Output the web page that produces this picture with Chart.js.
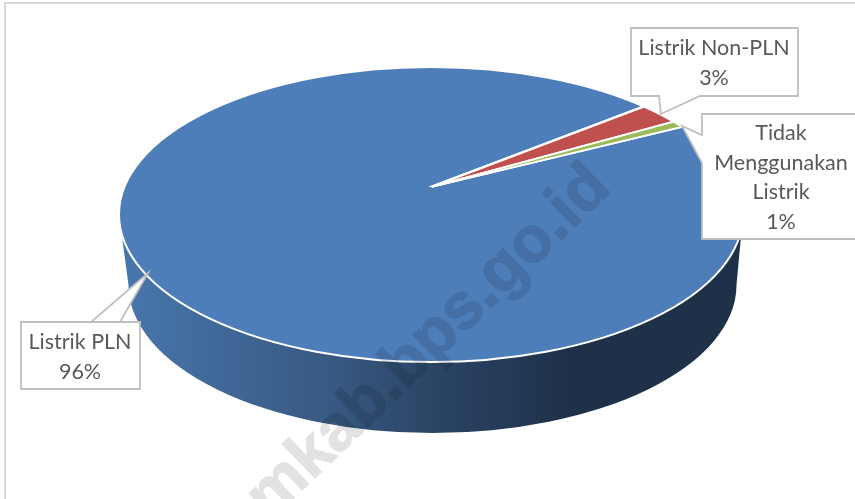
<!DOCTYPE html>
<html>
<head>
<meta charset="utf-8">
<script src="https://cdn.jsdelivr.net/npm/chart.js@4"></script>
<style>
  html, body { margin: 0; padding: 0; background: #fff; }
  canvas { display: block; }
</style>
</head>
<body>
<canvas id="pieChart" width="855" height="499"></canvas>
<script>
// Chart data
const categories = ['Listrik PLN', 'Listrik Non-PLN', 'Tidak Menggunakan Listrik'];
const shares = [96.4, 2.7, 0.9];
const shareLabels = ['96%', '3%', '1%'];
const sliceColors = ['#4e7eba', '#c0504d', '#9bbb59'];

// Callout text, one entry per slice
const calloutLines = [
  ['Listrik PLN', shareLabels[0]],
  ['Listrik Non-PLN', shareLabels[1]],
  ['Tidak', 'Menggunakan', 'Listrik', shareLabels[2]],
];

const FONT = 'Lato, sans-serif';

// Tilted pie: top face, side wall and slice apex (apex sits above the face centre)
const face = { x: 431, y: 214.5, rx: 312, ry: 147.5 };
const base = { x: 432.5, y: 285, rx: 304, ry: 148 };
const apex = { x: 431, y: 187 };
const tilt = 0.307;
const reach = 640;

// Callout boxes with their pointers
const callouts = [
  { box: [21, 322, 140, 389], pointer: [[120, 322], [148, 273], [91, 322]], side: 'top', textX: 80, textY: 342, lineGap: 30 },
  { box: [631, 28, 798, 96], pointer: [[700, 96], [661, 114], [659, 96]], side: 'bottom', textX: 714, textY: 48, lineGap: 30 },
  { box: [702, 114, 870, 239], pointer: [[702, 163], [682, 126], [702, 135]], side: 'left', textX: 781, textY: 133, lineGap: 29.7 },
];

const drawCallout = (ctx, c, lines) => {
  const [l, t, r, b] = c.box;
  const [p1, tip, p2] = c.pointer;
  ctx.beginPath();
  ctx.moveTo(l, t);
  if (c.side === 'top') { ctx.lineTo(p1[0], t); ctx.lineTo(tip[0], tip[1]); ctx.lineTo(p2[0], t); }
  ctx.lineTo(r, t);
  ctx.lineTo(r, b);
  if (c.side === 'bottom') { ctx.lineTo(p1[0], b); ctx.lineTo(tip[0], tip[1]); ctx.lineTo(p2[0], b); }
  ctx.lineTo(l, b);
  if (c.side === 'left') { ctx.lineTo(p1[0], p1[1]); ctx.lineTo(tip[0], tip[1]); ctx.lineTo(p2[0], p2[1]); }
  ctx.closePath();
  ctx.fillStyle = '#fff';
  ctx.fill();
  ctx.strokeStyle = '#bfbfbf';
  ctx.lineWidth = 1.8;
  ctx.stroke();

  ctx.fillStyle = '#595959';
  ctx.font = `21.5px ${FONT}`;
  ctx.textAlign = 'center';
  ctx.textBaseline = 'middle';
  lines.forEach((line, i) => ctx.fillText(line, c.textX, c.textY + i * c.lineGap));
};

const tiltedPie = {
  id: 'tiltedPie',
  beforeDraw(chart) {
    const { ctx, width, height } = chart;
    ctx.save();
    ctx.fillStyle = '#fff';
    ctx.fillRect(0, 0, width, height);
    // Frame
    ctx.strokeStyle = '#d9d9d9';
    ctx.lineWidth = 2;
    ctx.beginPath();
    ctx.moveTo(5, 499);
    ctx.lineTo(5, 3);
    ctx.lineTo(855, 3);
    ctx.stroke();
    ctx.restore();
  },
  beforeDatasetsDraw(chart) {
    const { ctx } = chart;
    const arc = chart.getDatasetMeta(0).data[0];

    // Side wall
    const wall = ctx.createLinearGradient(face.x - face.rx, 0, face.x + face.rx, 0);
    wall.addColorStop(0, '#4877ad');
    wall.addColorStop(0.15, '#41699a');
    wall.addColorStop(0.35, '#375880');
    wall.addColorStop(0.5, '#2b4566');
    wall.addColorStop(0.72, '#1e3149');
    wall.addColorStop(1, '#1e3148');
    ctx.save();
    ctx.beginPath();
    ctx.moveTo(face.x - face.rx, face.y);
    ctx.lineTo(base.x - base.rx, base.y);
    ctx.ellipse(base.x, base.y, base.rx, base.ry, 0, Math.PI, 0, true);
    ctx.lineTo(face.x + face.rx, face.y);
    ctx.closePath();
    ctx.fillStyle = wall;
    ctx.fill();
    ctx.restore();

    // Slices are clipped to the face and squashed around the apex
    ctx.save();
    ctx.beginPath();
    ctx.ellipse(face.x, face.y, face.rx, face.ry, 0, 0, Math.PI * 2);
    ctx.clip();
    const k = reach / arc.outerRadius;
    ctx.translate(apex.x, apex.y);
    ctx.scale(k, k * tilt);
    ctx.translate(-arc.x, -arc.y);
  },
  afterDatasetsDraw(chart) {
    const { ctx } = chart;
    ctx.restore();

    // Rim highlight
    ctx.save();
    ctx.beginPath();
    ctx.ellipse(face.x, face.y, face.rx, face.ry, 0, 0, Math.PI * 2);
    ctx.strokeStyle = '#fff';
    ctx.lineWidth = 2;
    ctx.stroke();
    ctx.restore();

    ctx.save();
    callouts.forEach((c, i) => drawCallout(ctx, c, calloutLines[i]));
    ctx.restore();
  },
  afterDraw(chart) {
    // Watermark, thickened on a scratch canvas so the stroke does not double the tint
    const { ctx, width, height } = chart;
    const scratch = document.createElement('canvas');
    scratch.width = width;
    scratch.height = height;
    const sc = scratch.getContext('2d');
    sc.translate(613, 190);
    sc.rotate(-44 * Math.PI / 180);
    sc.font = 'bold 65px "Liberation Sans", sans-serif';
    sc.textAlign = 'right';
    sc.textBaseline = 'alphabetic';
    sc.lineWidth = 1.5;
    sc.lineJoin = 'round';
    sc.fillStyle = '#000';
    sc.strokeStyle = '#000';
    sc.fillText('mkab.bps.go.id', 0, 0);
    sc.strokeText('mkab.bps.go.id', 0, 0);
    ctx.save();
    ctx.globalAlpha = 0.11;
    ctx.drawImage(scratch, 0, 0, width, height);
    ctx.restore();
  },
};

new Chart(document.getElementById('pieChart'), {
  type: 'pie',
  data: {
    labels: categories,
    datasets: [{
      data: shares,
      backgroundColor: sliceColors,
      borderColor: '#fff',
      borderWidth: 2,
      clip: false,
    }],
  },
  options: {
    responsive: false,
    animation: false,
    rotation: 52,
    layout: { padding: 0 },
    plugins: {
      legend: { display: false },
      tooltip: { enabled: false },
    },
  },
  plugins: [tiltedPie],
});
</script>
</body>
</html>
